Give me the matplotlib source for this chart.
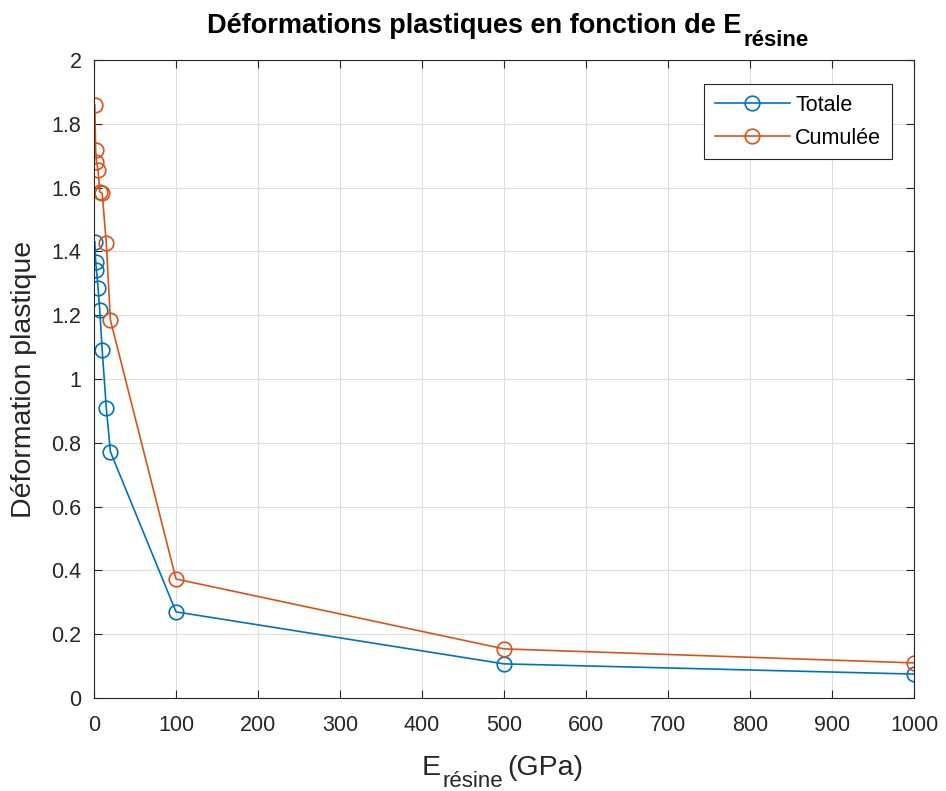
import matplotlib
matplotlib.use("Agg")
import matplotlib.pyplot as plt

plt.rcParams['font.family'] = ['Liberation Sans', 'DejaVu Sans']

# modules de la resine (GPa)
e_resine = [1, 2, 3, 5, 7, 10, 15, 20, 100, 500, 1000]
totale = [1.430, 1.368, 1.342, 1.285, 1.216, 1.091, 0.909, 0.772, 0.270, 0.107, 0.075]
cumulee = [1.859, 1.718, 1.681, 1.655, 1.587, 1.582, 1.426, 1.185, 0.373, 0.154, 0.110]

W, H = 946, 791
fig = plt.figure(figsize=(W / 100, H / 100), dpi=100)
L, R, T, B = 94, 914, 60, 698
ax = fig.add_axes([L / W, 1 - B / H, (R - L) / W, (B - T) / H])
txt = '#262626'

ax.plot(e_resine, totale, '-o', color='#0072BD', mfc='none', ms=10.5, lw=1.2, mew=1.2, label='Totale')
ax.plot(e_resine, cumulee, '-o', color='#D95319', mfc='none', ms=10.5, lw=1.2, mew=1.2, label='Cumulée')

ax.set_xlim(0, 1000)
ax.set_ylim(0, 2)
ax.set_xticks(range(0, 1001, 100))
ax.set_yticks([i / 5 for i in range(11)])
ax.set_yticklabels(['0', '0.2', '0.4', '0.6', '0.8', '1', '1.2', '1.4', '1.6', '1.8', '2'])
ax.grid(True, color='#dedede', lw=0.8)
ax.set_axisbelow(True)
ax.tick_params(direction='in', top=True, right=True, labelsize=15.5, colors=txt, length=6)
ax.tick_params(axis='x', pad=12)
ax.tick_params(axis='y', pad=9)
for s in ax.spines.values():
    s.set_color(txt)
    s.set_linewidth(0.8)

ax.set_ylabel('Déformation plastique', fontsize=20.5, color=txt, va='center')
ax.yaxis.set_label_coords((24 - L) / (R - L), 0.5)

leg = ax.legend(loc='upper right', bbox_to_anchor=((892 - L) / (R - L), (B - 84) / (B - T)),
                borderaxespad=0, fontsize=15.5, fancybox=False, edgecolor=txt, framealpha=1,
                handlelength=3.5, handletextpad=0.25, labelspacing=0.55, borderpad=0.5)
leg.get_frame().set_linewidth(0.8)

renderer = fig.canvas.get_renderer()


def label_with_sub(main, sub, cx, base_y, size, sub_size, drop, weight='normal', color='black'):
    # texte principal + indice, centre sur cx (pixels), ligne de base base_y (pixels depuis le haut)
    t1 = fig.text(0, 1 - base_y / H, main, fontsize=size, fontweight=weight, color=color,
                  ha='left', va='baseline')
    t2 = fig.text(0, 1 - (base_y + drop) / H, sub, fontsize=sub_size, fontweight=weight, color=color,
                  ha='left', va='baseline')
    w1 = t1.get_window_extent(renderer).width
    w2 = t2.get_window_extent(renderer).width
    x0 = cx - (w1 + 2 + w2) / 2
    t1.set_x(x0 / W)
    t2.set_x((x0 + w1 + 2) / W)
    return t1, t2


label_with_sub('Déformations plastiques en fonction de E', 'résine', 508, 33, 19.5, 16, 13, weight='bold')
label_with_sub('E', 'résine', 462, 775, 20.5, 16, 12, color=txt)
fig.text(507 / W, 1 - 775 / H, '(GPa)', fontsize=20.5, color=txt, ha='left', va='baseline')

fig.savefig('out.png', dpi=100)
